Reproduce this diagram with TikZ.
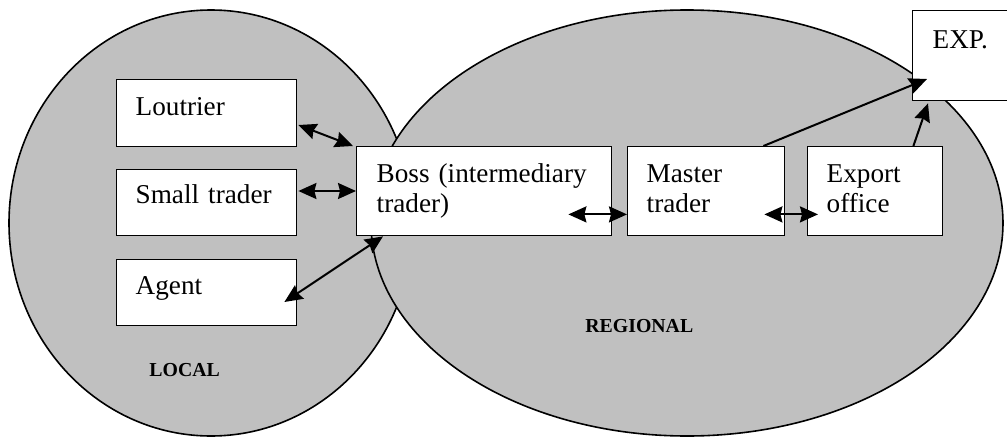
\documentclass[tikz,border=0pt]{standalone}
\usepackage{fontspec}
\setmainfont{Liberation Serif}
\usetikzlibrary{arrows.meta,calc}
\tikzset{
  zone/.style={fill=zonegray, draw=black, line width=0.8pt},
  box/.style={draw=black, fill=white, line width=0.7pt, anchor=north west,
    inner ysep=0pt, inner xsep=9.5pt, align=left,
    font=\fontsize{13.6}{15}\selectfont},
  zonelabel/.style={anchor=base west, inner sep=0pt,
    font=\fontsize{9.9}{12}\selectfont\bfseries},
  tip/.tip={Stealth[length=9pt,width=8pt,inset=1pt]},
  link/.style={line width=1pt, tip-tip},
  flow/.style={line width=1pt, -tip}
}
\definecolor{zonegray}{HTML}{C0C0C0}
\begin{document}
\begin{tikzpicture}[x=0.5pt,y=-0.5pt]
\useasboundingbox (0,0) rectangle (1007,439);
% zones
\path[zone] (211,223) ellipse [x radius=202, y radius=213];
\path[zone] (687,223) ellipse [x radius=316, y radius=213];
\node[zonelabel] (local) at (149,376) {LOCAL};
\node[zonelabel] (regional) at (585,332) {REGIONAL};
% boxes
\node[box, text width=71pt, text height=18pt, text depth=15.5pt] (lout) at (116,79) {Loutrier};
\node[box, text width=71pt, text height=17pt, text depth=16pt] (small) at (116,169) {Small trader};
\node[box, text width=71pt, text height=17.5pt, text depth=15.5pt] (agent) at (116,259) {Agent};
\node[box, inner xsep=10pt, text width=107.5pt, text height=18pt, text depth=26.5pt] (boss) at (356,146) {Boss (intermediary\\trader)};
\node[box, text width=59.5pt, text height=18pt, text depth=26.5pt] (master) at (627,146) {Master\\trader};
\node[box, text width=48.5pt, text height=18pt, text depth=26.5pt] (export) at (807,146) {Export\\office};
\node[box, inner xsep=10pt, text width=39pt, text height=19pt, text depth=26pt] (exp) at (912,10) {EXP.};
% connector ends
\coordinate (l1) at ($(lout.north east)+(1,46)$);
\coordinate (b1) at ($(boss.north west)+(-3,0)$);
\coordinate (s1) at ($(small.north east)+(1,22)$);
\coordinate (b2) at ($(boss.north west)+(0,45)$);
\coordinate (a1) at ($(agent.north east)+(-13,43)$);
\coordinate (b3) at ($(boss.south west)+(27,0)$);
\coordinate (b4) at ($(boss.south east)+(-44,-22)$);
\coordinate (m1) at ($(master.south west)+(0,-22)$);
\coordinate (m2) at ($(master.south east)+(-21,-22)$);
\coordinate (e1) at ($(export.south west)+(11,-22)$);
\coordinate (m3) at ($(master.north east)+(-22,0)$);
\coordinate (x1) at ($(exp.north west)+(15,69)$);
\coordinate (e2) at ($(export.north east)+(-30,0)$);
\coordinate (x2) at ($(exp.south west)+(16,2)$);
% connectors
\draw[link] (l1) -- (b1);
\draw[link] (s1) -- (b2);
\draw[link] (a1) -- (b3);
\draw[link] (b4) -- (m1);
\draw[link] (m2) -- (e1);
\draw[flow] (m3) -- (x1);
\draw[flow] (e2) -- (x2);
\end{tikzpicture}
\end{document}
